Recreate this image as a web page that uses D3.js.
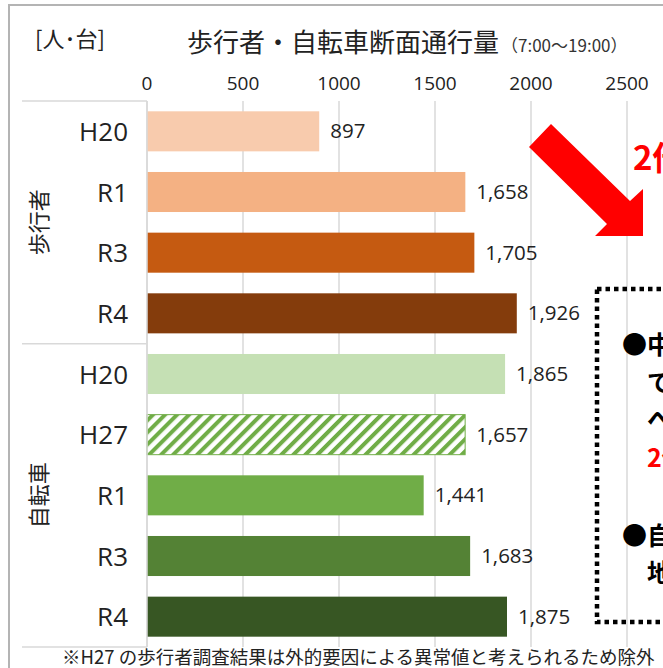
<!DOCTYPE html>
<html>
<head>
<meta charset="utf-8">
<script src="https://cdn.jsdelivr.net/npm/d3@7"></script>
<style>
  body { margin: 0; background: #fff; }
  svg { display: block; font-family: "Noto Sans CJK JP", "Noto Sans", sans-serif; }
  .num { font-family: "Open Sans", sans-serif; }
</style>
</head>
<body>
<svg id="chart" width="663" height="668"></svg>
<script>
// data
const pedYears = ["H20", "R1", "R3", "R4"];
const pedValues = [897, 1658, 1705, 1926];
const pedColors = ["#F8CBAD", "#F4B183", "#C55A11", "#843C0C"];

const bikeYears = ["H20", "H27", "R1", "R3", "R4"];
const bikeValues = [1865, 1657, 1441, 1683, 1875];
const bikeColors = ["#C5E0B4", "hatch", "#70AD47", "#548235", "#375623"];

const tickValues = [0, 500, 1000, 1500, 2000, 2500, 3000];
const groupNames = ["歩行者", "自転車"];

const noteLines = [
  { t: "●中心部の歩行者通行量は", red: false },
  { t: "　では大きく増加しており", red: false },
  { t: "　へと推移している", red: false },
  { t: "　2倍以上の伸び", red: true },
  { t: "", red: false },
  { t: "●自転車は概ね横ばいで", red: false },
  { t: "　地区内の移動が定着", red: false }
];

const rows = [];
pedYears.forEach((y, i) => rows.push({ key: "p" + i, year: y, value: pedValues[i], color: pedColors[i] }));
bikeYears.forEach((y, i) => rows.push({ key: "b" + i, year: y, value: bikeValues[i], color: bikeColors[i] }));

const svg = d3.select("#chart");

const x = d3.scaleLinear().domain([0, 3000]).range([147, 723]);
const y = d3.scaleBand().domain(rows.map(d => d.key)).range([101, 647])
  .paddingInner(0.34).paddingOuter(0.17);

const defs = svg.append("defs");
const pat = defs.append("pattern").attr("id", "hatch")
  .attr("patternUnits", "userSpaceOnUse").attr("width", 8.5).attr("height", 8.5)
  .attr("patternTransform", "rotate(45)");
pat.append("rect").attr("width", 8.5).attr("height", 8.5).attr("fill", "#fff");
pat.append("rect").attr("width", 4).attr("height", 8.5).attr("fill", "#70AD47");

// outer frame
svg.append("path").attr("d", "M9,668 V5 H663").attr("fill", "none")
  .attr("stroke", "#b4b4b4").attr("stroke-width", 2);

// title
svg.append("text").attr("x", 35).attr("y", 47).attr("font-size", 22).attr("fill", "#222")
  .text("[人･台]");
const title = svg.append("text").attr("x", 187).attr("y", 52).attr("fill", "#222");
title.append("tspan").attr("font-size", 26).text("歩行者・自転車断面通行量");
title.append("tspan").attr("font-size", 17).attr("dx", 2).attr("fill", "#333").text("（7:00～19:00）");

// grid
const yTop = y.range()[0], yBot = y.range()[1];
svg.append("g").selectAll("line").data(tickValues).join("line")
  .attr("x1", d => x(d)).attr("x2", d => x(d))
  .attr("y1", yTop).attr("y2", yBot)
  .attr("stroke", "#d9d9d9").attr("stroke-width", 1.5);

// ticks
svg.append("g").selectAll("text").data(tickValues).join("text")
  .attr("class", "num")
  .attr("x", d => x(d)).attr("y", 90).attr("text-anchor", "middle")
  .attr("font-size", 19).attr("fill", "#222")
  .text(d => d);

// category boxes
const sepY = (y("p3") + y.bandwidth() + y("b0")) / 2;
svg.append("g").selectAll("line").data([yTop, sepY, yBot]).join("line")
  .attr("x1", 22).attr("x2", x(0)).attr("y1", d => d).attr("y2", d => d)
  .attr("stroke", "#d9d9d9").attr("stroke-width", 1.5);

// bars
svg.append("g").selectAll("rect").data(rows).join("rect")
  .attr("x", x(0)).attr("y", d => y(d.key))
  .attr("width", d => x(d.value) - x(0)).attr("height", y.bandwidth())
  .attr("fill", d => d.color === "hatch" ? "url(#hatch)" : d.color)
  .attr("stroke", d => d.color === "hatch" ? "#70AD47" : "none")
  .attr("stroke-width", 1);

// value labels
svg.append("g").selectAll("text").data(rows).join("text")
  .attr("class", "num")
  .attr("x", d => x(d.value) + 11).attr("y", d => y(d.key) + y.bandwidth() / 2 + 7)
  .attr("font-size", 20.5).attr("fill", "#222")
  .text(d => d3.format(",")(d.value));

// category labels
svg.append("g").selectAll("text").data(rows).join("text")
  .attr("class", "num")
  .attr("x", 128).attr("y", d => y(d.key) + y.bandwidth() / 2 + 9.5)
  .attr("text-anchor", "end").attr("font-size", 26).attr("fill", "#222")
  .text(d => d.year);

// axis line
svg.append("line").attr("x1", x(0)).attr("x2", x(0)).attr("y1", yTop).attr("y2", yBot)
  .attr("stroke", "#d9d9d9").attr("stroke-width", 1.5);

// group labels
[[yTop, sepY], [sepY, yBot]].forEach((r, i) => {
  const cy = (r[0] + r[1]) / 2;
  svg.append("text").attr("transform", `translate(47,${cy}) rotate(-90)`)
    .attr("text-anchor", "middle").attr("font-size", 22).attr("fill", "#222")
    .text(groupNames[i]);
});

// red arrow
svg.append("polygon")
  .attr("points", "529,147 551,124 630,201 643,189 643,236 595,236 607,224")
  .attr("fill", "#FF0000");
svg.append("text").attr("x", 633).attr("y", 170).attr("font-size", 33)
  .attr("font-weight", "bold").attr("fill", "#FF0000").text("2倍以上");

// dotted box
svg.append("rect").attr("x", 597).attr("y", 289).attr("width", 120).attr("height", 333)
  .attr("fill", "none").attr("stroke", "#000").attr("stroke-width", 4.5)
  .attr("stroke-dasharray", "4.5,4");

svg.append("g").selectAll("text").data(noteLines).join("text")
  .attr("x", 622).attr("y", (d, i) => 354 + i * 37.5 + (i > 4 ? 3 : 0))
  .attr("font-size", 25).attr("font-weight", "bold")
  .attr("fill", d => d.red ? "#FF0000" : "#000")
  .text(d => d.t);

// footnote
svg.append("text").attr("x", 62).attr("y", 664).attr("font-size", 18.5).attr("fill", "#222")
  .text("※H27 の歩行者調査結果は外的要因による異常値と考えられるため除外");
</script>
</body>
</html>
